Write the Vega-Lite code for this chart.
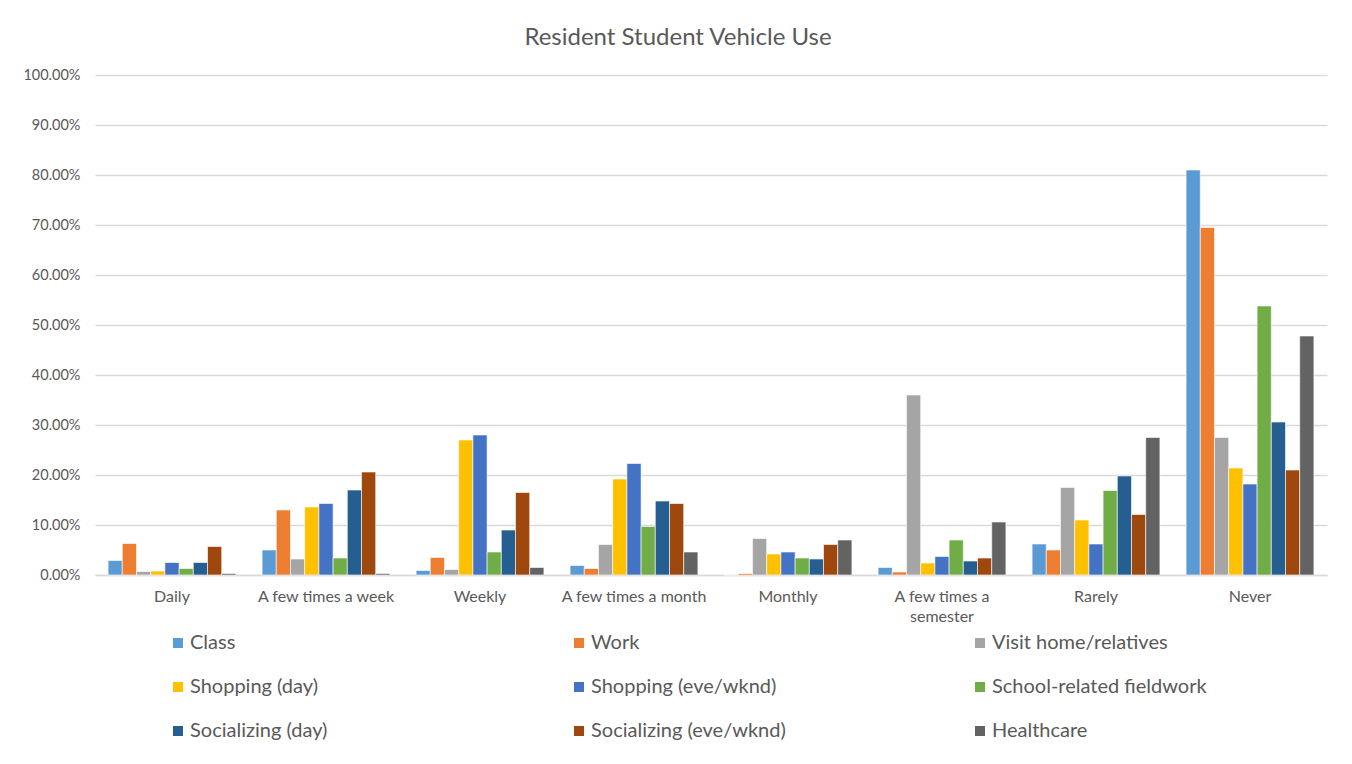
{
  "$schema": "https://vega.github.io/schema/vega-lite/v6.json",
  "width": 1232,
  "height": 500,
  "autosize": "none",
  "padding": {"left": 95, "top": 75, "right": 25, "bottom": 189},
  "background": "white",
  "title": {"text": "Resident Student Vehicle Use", "fontSize": 24, "font": "Lato", "fontWeight": "normal", "color": "#595959", "anchor": "middle", "offset": 17, "dx": -33},
  "config": {"view": {"stroke": null}, "font": "Lato"},
  "data": {"values": [
    {"freq": "Daily", "purpose": "Class", "value": 2.9},
    {"freq": "Daily", "purpose": "Work", "value": 6.3},
    {"freq": "Daily", "purpose": "Visit home/relatives", "value": 0.7},
    {"freq": "Daily", "purpose": "Shopping (day)", "value": 0.8},
    {"freq": "Daily", "purpose": "Shopping (eve/wknd)", "value": 2.5},
    {"freq": "Daily", "purpose": "School-related fieldwork", "value": 1.3},
    {"freq": "Daily", "purpose": "Socializing (day)", "value": 2.5},
    {"freq": "Daily", "purpose": "Socializing (eve/wknd)", "value": 5.7},
    {"freq": "Daily", "purpose": "Healthcare", "value": 0.3},
    {"freq": "A few times a week", "purpose": "Class", "value": 5.0},
    {"freq": "A few times a week", "purpose": "Work", "value": 13.0},
    {"freq": "A few times a week", "purpose": "Visit home/relatives", "value": 3.2},
    {"freq": "A few times a week", "purpose": "Shopping (day)", "value": 13.6},
    {"freq": "A few times a week", "purpose": "Shopping (eve/wknd)", "value": 14.3},
    {"freq": "A few times a week", "purpose": "School-related fieldwork", "value": 3.4},
    {"freq": "A few times a week", "purpose": "Socializing (day)", "value": 17.0},
    {"freq": "A few times a week", "purpose": "Socializing (eve/wknd)", "value": 20.6},
    {"freq": "A few times a week", "purpose": "Healthcare", "value": 0.3},
    {"freq": "Weekly", "purpose": "Class", "value": 0.9},
    {"freq": "Weekly", "purpose": "Work", "value": 3.5},
    {"freq": "Weekly", "purpose": "Visit home/relatives", "value": 1.1},
    {"freq": "Weekly", "purpose": "Shopping (day)", "value": 27.0},
    {"freq": "Weekly", "purpose": "Shopping (eve/wknd)", "value": 28.0},
    {"freq": "Weekly", "purpose": "School-related fieldwork", "value": 4.6},
    {"freq": "Weekly", "purpose": "Socializing (day)", "value": 9.0},
    {"freq": "Weekly", "purpose": "Socializing (eve/wknd)", "value": 16.5},
    {"freq": "Weekly", "purpose": "Healthcare", "value": 1.5},
    {"freq": "A few times a month", "purpose": "Class", "value": 1.9},
    {"freq": "A few times a month", "purpose": "Work", "value": 1.3},
    {"freq": "A few times a month", "purpose": "Visit home/relatives", "value": 6.1},
    {"freq": "A few times a month", "purpose": "Shopping (day)", "value": 19.2},
    {"freq": "A few times a month", "purpose": "Shopping (eve/wknd)", "value": 22.3},
    {"freq": "A few times a month", "purpose": "School-related fieldwork", "value": 9.7},
    {"freq": "A few times a month", "purpose": "Socializing (day)", "value": 14.8},
    {"freq": "A few times a month", "purpose": "Socializing (eve/wknd)", "value": 14.3},
    {"freq": "A few times a month", "purpose": "Healthcare", "value": 4.6},
    {"freq": "Monthly", "purpose": "Class", "value": 0.0},
    {"freq": "Monthly", "purpose": "Work", "value": 0.3},
    {"freq": "Monthly", "purpose": "Visit home/relatives", "value": 7.3},
    {"freq": "Monthly", "purpose": "Shopping (day)", "value": 4.2},
    {"freq": "Monthly", "purpose": "Shopping (eve/wknd)", "value": 4.6},
    {"freq": "Monthly", "purpose": "School-related fieldwork", "value": 3.4},
    {"freq": "Monthly", "purpose": "Socializing (day)", "value": 3.2},
    {"freq": "Monthly", "purpose": "Socializing (eve/wknd)", "value": 6.1},
    {"freq": "Monthly", "purpose": "Healthcare", "value": 7.0},
    {"freq": "A few times a semester", "purpose": "Class", "value": 1.5},
    {"freq": "A few times a semester", "purpose": "Work", "value": 0.6},
    {"freq": "A few times a semester", "purpose": "Visit home/relatives", "value": 36.0},
    {"freq": "A few times a semester", "purpose": "Shopping (day)", "value": 2.4},
    {"freq": "A few times a semester", "purpose": "Shopping (eve/wknd)", "value": 3.7},
    {"freq": "A few times a semester", "purpose": "School-related fieldwork", "value": 7.0},
    {"freq": "A few times a semester", "purpose": "Socializing (day)", "value": 2.8},
    {"freq": "A few times a semester", "purpose": "Socializing (eve/wknd)", "value": 3.4},
    {"freq": "A few times a semester", "purpose": "Healthcare", "value": 10.6},
    {"freq": "Rarely", "purpose": "Class", "value": 6.2},
    {"freq": "Rarely", "purpose": "Work", "value": 5.0},
    {"freq": "Rarely", "purpose": "Visit home/relatives", "value": 17.5},
    {"freq": "Rarely", "purpose": "Shopping (day)", "value": 11.0},
    {"freq": "Rarely", "purpose": "Shopping (eve/wknd)", "value": 6.2},
    {"freq": "Rarely", "purpose": "School-related fieldwork", "value": 16.9},
    {"freq": "Rarely", "purpose": "Socializing (day)", "value": 19.8},
    {"freq": "Rarely", "purpose": "Socializing (eve/wknd)", "value": 12.1},
    {"freq": "Rarely", "purpose": "Healthcare", "value": 27.5},
    {"freq": "Never", "purpose": "Class", "value": 81.0},
    {"freq": "Never", "purpose": "Work", "value": 69.5},
    {"freq": "Never", "purpose": "Visit home/relatives", "value": 27.5},
    {"freq": "Never", "purpose": "Shopping (day)", "value": 21.4},
    {"freq": "Never", "purpose": "Shopping (eve/wknd)", "value": 18.2},
    {"freq": "Never", "purpose": "School-related fieldwork", "value": 53.8},
    {"freq": "Never", "purpose": "Socializing (day)", "value": 30.6},
    {"freq": "Never", "purpose": "Socializing (eve/wknd)", "value": 21.0},
    {"freq": "Never", "purpose": "Healthcare", "value": 47.8}
  ]},
  "mark": {"type": "bar", "stroke": "#ffffff", "strokeWidth": 0.6},
  "encoding": {
    "x": {
      "field": "freq", "type": "nominal",
      "sort": ["Daily", "A few times a week", "Weekly", "A few times a month", "Monthly", "A few times a semester", "Rarely", "Never"],
      "scale": {"paddingInner": 0.17, "paddingOuter": 0.085},
      "axis": {
        "title": null, "labelAngle": 0, "labelFontSize": 16, "labelColor": "#595959", "labelPadding": 13,
        "ticks": false, "domainColor": "#d9d9d9", "domainWidth": 1.5,
        "labelExpr": "datum.label == 'A few times a semester' ? ['A few times a', 'semester'] : datum.label",
        "labelLineHeight": 20
      }
    },
    "xOffset": {
      "field": "purpose", "type": "nominal",
      "sort": ["Class", "Work", "Visit home/relatives", "Shopping (day)", "Shopping (eve/wknd)", "School-related fieldwork", "Socializing (day)", "Socializing (eve/wknd)", "Healthcare"]
    },
    "y": {
      "field": "value", "type": "quantitative",
      "scale": {"domain": [0, 100], "nice": false},
      "axis": {
        "title": null, "values": [0, 10, 20, 30, 40, 50, 60, 70, 80, 90, 100],
        "labelExpr": "format(datum.value / 100, '.2%')",
        "labelFontSize": 14.5, "labelColor": "#595959", "labelPadding": 15,
        "domain": false, "ticks": false, "gridColor": "#d9d9d9", "gridWidth": 1.5
      }
    },
    "color": {
      "field": "purpose", "type": "nominal",
      "sort": ["Class", "Work", "Visit home/relatives", "Shopping (day)", "Shopping (eve/wknd)", "School-related fieldwork", "Socializing (day)", "Socializing (eve/wknd)", "Healthcare"],
      "scale": {
        "domain": ["Class", "Work", "Visit home/relatives", "Shopping (day)", "Shopping (eve/wknd)", "School-related fieldwork", "Socializing (day)", "Socializing (eve/wknd)", "Healthcare"],
        "range": ["#5B9BD5", "#ED7D31", "#A5A5A5", "#FFC000", "#4472C4", "#70AD47", "#255E91", "#9E480E", "#636363"]
      },
      "legend": {
        "title": null, "orient": "none", "legendX": 73, "legendY": 558,
        "direction": "horizontal", "columns": 3, "gridAlign": "all",
        "symbolType": "square", "symbolSize": 100, "symbolStrokeWidth": 0,
        "labelFontSize": 20, "labelColor": "#595959", "labelOffset": 2, "labelLimit": 400,
        "rowPadding": 24, "columnPadding": 164
      }
    }
  }
}
